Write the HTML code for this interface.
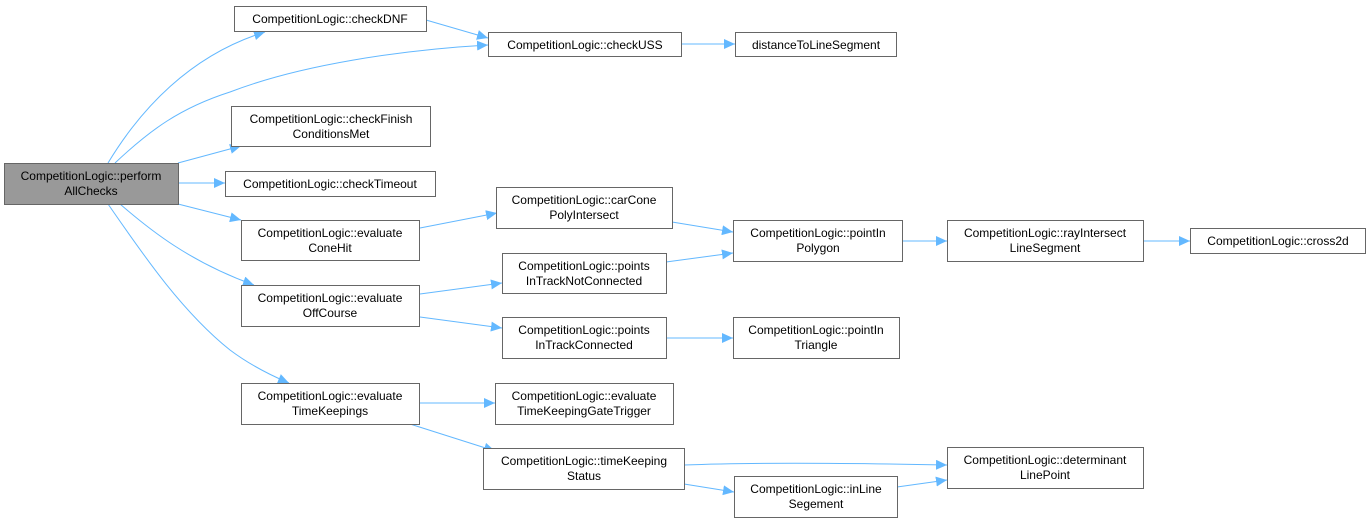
<!DOCTYPE html>
<html><head><meta charset="utf-8"><style>
body{margin:0;background:#fff;width:1372px;height:523px;overflow:hidden}
svg{display:block}
text{font-family:"Liberation Sans",Arial,sans-serif;font-size:12px;fill:#000}
rect{fill:#fff;stroke:#666;stroke-width:1}
path{fill:none;stroke:#63b8ff;stroke-width:1}
</style></head><body>
<svg width="1372" height="523" viewBox="0 0 1372 523">
<defs><marker id="a" markerWidth="12" markerHeight="10" refX="11" refY="5" orient="auto" markerUnits="userSpaceOnUse"><polygon points="0,0 11,5 0,10" fill="#63b8ff"/></marker></defs>
<g marker-end="url(#a)">
<path d="M108,163 C140,110 190,55 265,32"/>
<path d="M115,163 C150,130 180,108 230,92 C300,65 400,50 488,45"/>
<path d="M426,20 L488,38"/>
<path d="M681,44 L735,44"/>
<path d="M178,163 L241,146"/>
<path d="M178,183 L225,183"/>
<path d="M178,204 L241,220"/>
<path d="M120,204 C150,230 190,262 254,285"/>
<path d="M108,204 C140,250 180,310 230,350 C250,365 270,375 289,383"/>
<path d="M420,228 L497,213"/>
<path d="M672,222 L733,232"/>
<path d="M666,262 L733,253"/>
<path d="M420,294 L502,283"/>
<path d="M420,317 L502,328"/>
<path d="M666,338 L733,338"/>
<path d="M902,241 L947,241"/>
<path d="M1143,241 L1190,241"/>
<path d="M420,403 L495,403"/>
<path d="M410,424 L495,451"/>
<path d="M684,465 C760,462 850,463 947,465"/>
<path d="M684,484 L734,492"/>
<path d="M897,487 L947,480"/>
</g>
<g text-anchor="middle">
<rect x="4.5" y="163.5" width="174" height="41" style="fill:#999"/>
<text x="91" y="180">CompetitionLogic::perform</text><text x="91" y="195">AllChecks</text>
<rect x="234.5" y="6.5" width="192" height="25"/><text x="330" y="23">CompetitionLogic::checkDNF</text>
<rect x="488.5" y="32.5" width="193" height="24"/><text x="585" y="49">CompetitionLogic::checkUSS</text>
<rect x="735.5" y="32.5" width="161" height="24"/><text x="816" y="49">distanceToLineSegment</text>
<rect x="231.5" y="106.5" width="199" height="40"/><text x="331" y="123">CompetitionLogic::checkFinish</text><text x="331" y="138">ConditionsMet</text>
<rect x="225.5" y="171.5" width="210" height="25"/><text x="330" y="188">CompetitionLogic::checkTimeout</text>
<rect x="241.5" y="220.5" width="178" height="40"/><text x="330" y="237">CompetitionLogic::evaluate</text><text x="330" y="252">ConeHit</text>
<rect x="496.5" y="187.5" width="176" height="41"/><text x="584" y="204">CompetitionLogic::carCone</text><text x="584" y="219">PolyIntersect</text>
<rect x="502.5" y="253.5" width="164" height="40"/><text x="584" y="270">CompetitionLogic::points</text><text x="584" y="285">InTrackNotConnected</text>
<rect x="241.5" y="285.5" width="178" height="41"/><text x="330" y="302">CompetitionLogic::evaluate</text><text x="330" y="317">OffCourse</text>
<rect x="502.5" y="317.5" width="164" height="41"/><text x="584" y="334">CompetitionLogic::points</text><text x="584" y="349">InTrackConnected</text>
<rect x="241.5" y="383.5" width="178" height="41"/><text x="330" y="400">CompetitionLogic::evaluate</text><text x="330" y="415">TimeKeepings</text>
<rect x="495.5" y="383.5" width="178" height="41"/><text x="584" y="400">CompetitionLogic::evaluate</text><text x="584" y="415">TimeKeepingGateTrigger</text>
<rect x="483.5" y="448.5" width="201" height="41"/><text x="584" y="465">CompetitionLogic::timeKeeping</text><text x="584" y="480">Status</text>
<rect x="733.5" y="220.5" width="169" height="41"/><text x="818" y="237">CompetitionLogic::pointIn</text><text x="818" y="252">Polygon</text>
<rect x="947.5" y="220.5" width="196" height="41"/><text x="1045" y="237">CompetitionLogic::rayIntersect</text><text x="1045" y="252">LineSegment</text>
<rect x="1190.5" y="228.5" width="175" height="25"/><text x="1278" y="245">CompetitionLogic::cross2d</text>
<rect x="733.5" y="317.5" width="166" height="41"/><text x="816" y="334">CompetitionLogic::pointIn</text><text x="816" y="349">Triangle</text>
<rect x="947.5" y="447.5" width="196" height="41"/><text x="1045" y="464">CompetitionLogic::determinant</text><text x="1045" y="479">LinePoint</text>
<rect x="734.5" y="476.5" width="163" height="41"/><text x="816" y="493">CompetitionLogic::inLine</text><text x="816" y="508">Segement</text>
</g>
</svg>
</body></html>
